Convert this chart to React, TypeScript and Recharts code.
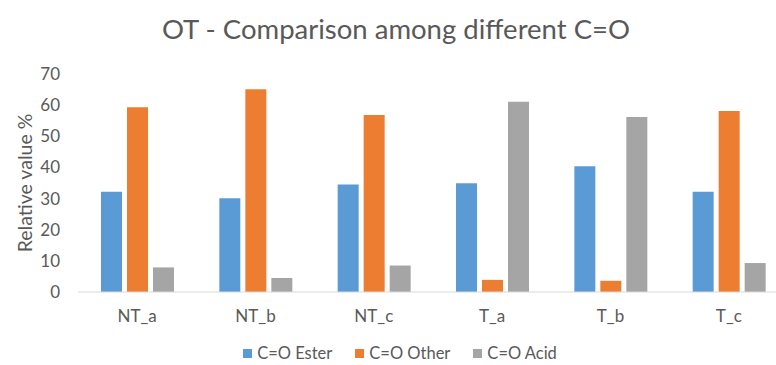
import { Bar, BarChart, XAxis, YAxis } from "recharts";

const categories = ["NT_a", "NT_b", "NT_c", "T_a", "T_b", "T_c"];
const esterValues = [32.2, 30.1, 34.5, 34.9, 40.4, 32.2];
const otherValues = [59.3, 65.1, 56.8, 3.9, 3.6, 58.1];
const acidValues = [7.9, 4.5, 8.5, 61.1, 56.2, 9.3];
const yTicks = [0, 10, 20, 30, 40, 50, 60, 70];

const series = [
  { key: "ester", name: "C=O Ester", color: "#5B9BD5" },
  { key: "other", name: "C=O Other", color: "#ED7D31" },
  { key: "acid", name: "C=O Acid", color: "#A5A5A5" },
];

const data = categories.map((name, i) => ({
  name,
  ester: esterValues[i],
  other: otherValues[i],
  acid: acidValues[i],
}));

const FONT = "Lato, 'Open Sans', sans-serif";
const TEXT = "#595959";

export default function App() {
  return (
    <div
      style={{
        position: "absolute",
        left: 0,
        top: 0,
        width: 776,
        height: 365,
        overflow: "hidden",
        background: "#fff",
        fontFamily: FONT,
      }}
    >
      <div
        style={{
          position: "absolute",
          top: 12,
          left: 0,
          width: 792,
          textAlign: "center",
          fontSize: 27.5,
          color: TEXT,
          lineHeight: "34px",
        }}
      >
        OT - Comparison among different C=O
      </div>

      <BarChart
        width={800}
        height={365}
        data={data}
        margin={{ top: 74, right: 12, bottom: 43, left: 0 }}
        barSize={21}
        barGap={5}
      >
        <XAxis
          dataKey="name"
          height={30}
          tickLine={false}
          tickSize={0}
          tickMargin={18}
          axisLine={{ stroke: "#D9D9D9" }}
          tick={{ fill: TEXT, fontSize: 17, fontFamily: FONT }}
        />
        <YAxis
          width={78}
          domain={[0, 70]}
          ticks={yTicks}
          axisLine={false}
          tickLine={false}
          tickSize={0}
          tickMargin={18}
          tick={{ fill: TEXT, fontSize: 17, fontFamily: FONT }}
          label={{
            value: "Relative value %",
            angle: -90,
            position: "insideLeft",
            offset: 25,
            style: { textAnchor: "middle", fill: TEXT, fontSize: 19.5, fontFamily: FONT },
          }}
        />
        {series.map((s) => (
          <Bar
            key={s.key}
            dataKey={s.key}
            name={s.name}
            fill={s.color}
            isAnimationActive={false}
          />
        ))}
      </BarChart>

      <div
        style={{
          position: "absolute",
          top: 343,
          left: 0,
          width: 800,
          display: "flex",
          justifyContent: "center",
          gap: 23,
          fontSize: 16.5,
          color: TEXT,
          lineHeight: "20px",
        }}
      >
        {series.map((s) => (
          <span key={s.key} style={{ display: "flex", alignItems: "center" }}>
            <span
              style={{
                width: 9,
                height: 9,
                background: s.color,
                display: "inline-block",
                marginRight: 5,
              }}
            />
            {s.name}
          </span>
        ))}
      </div>
    </div>
  );
}
